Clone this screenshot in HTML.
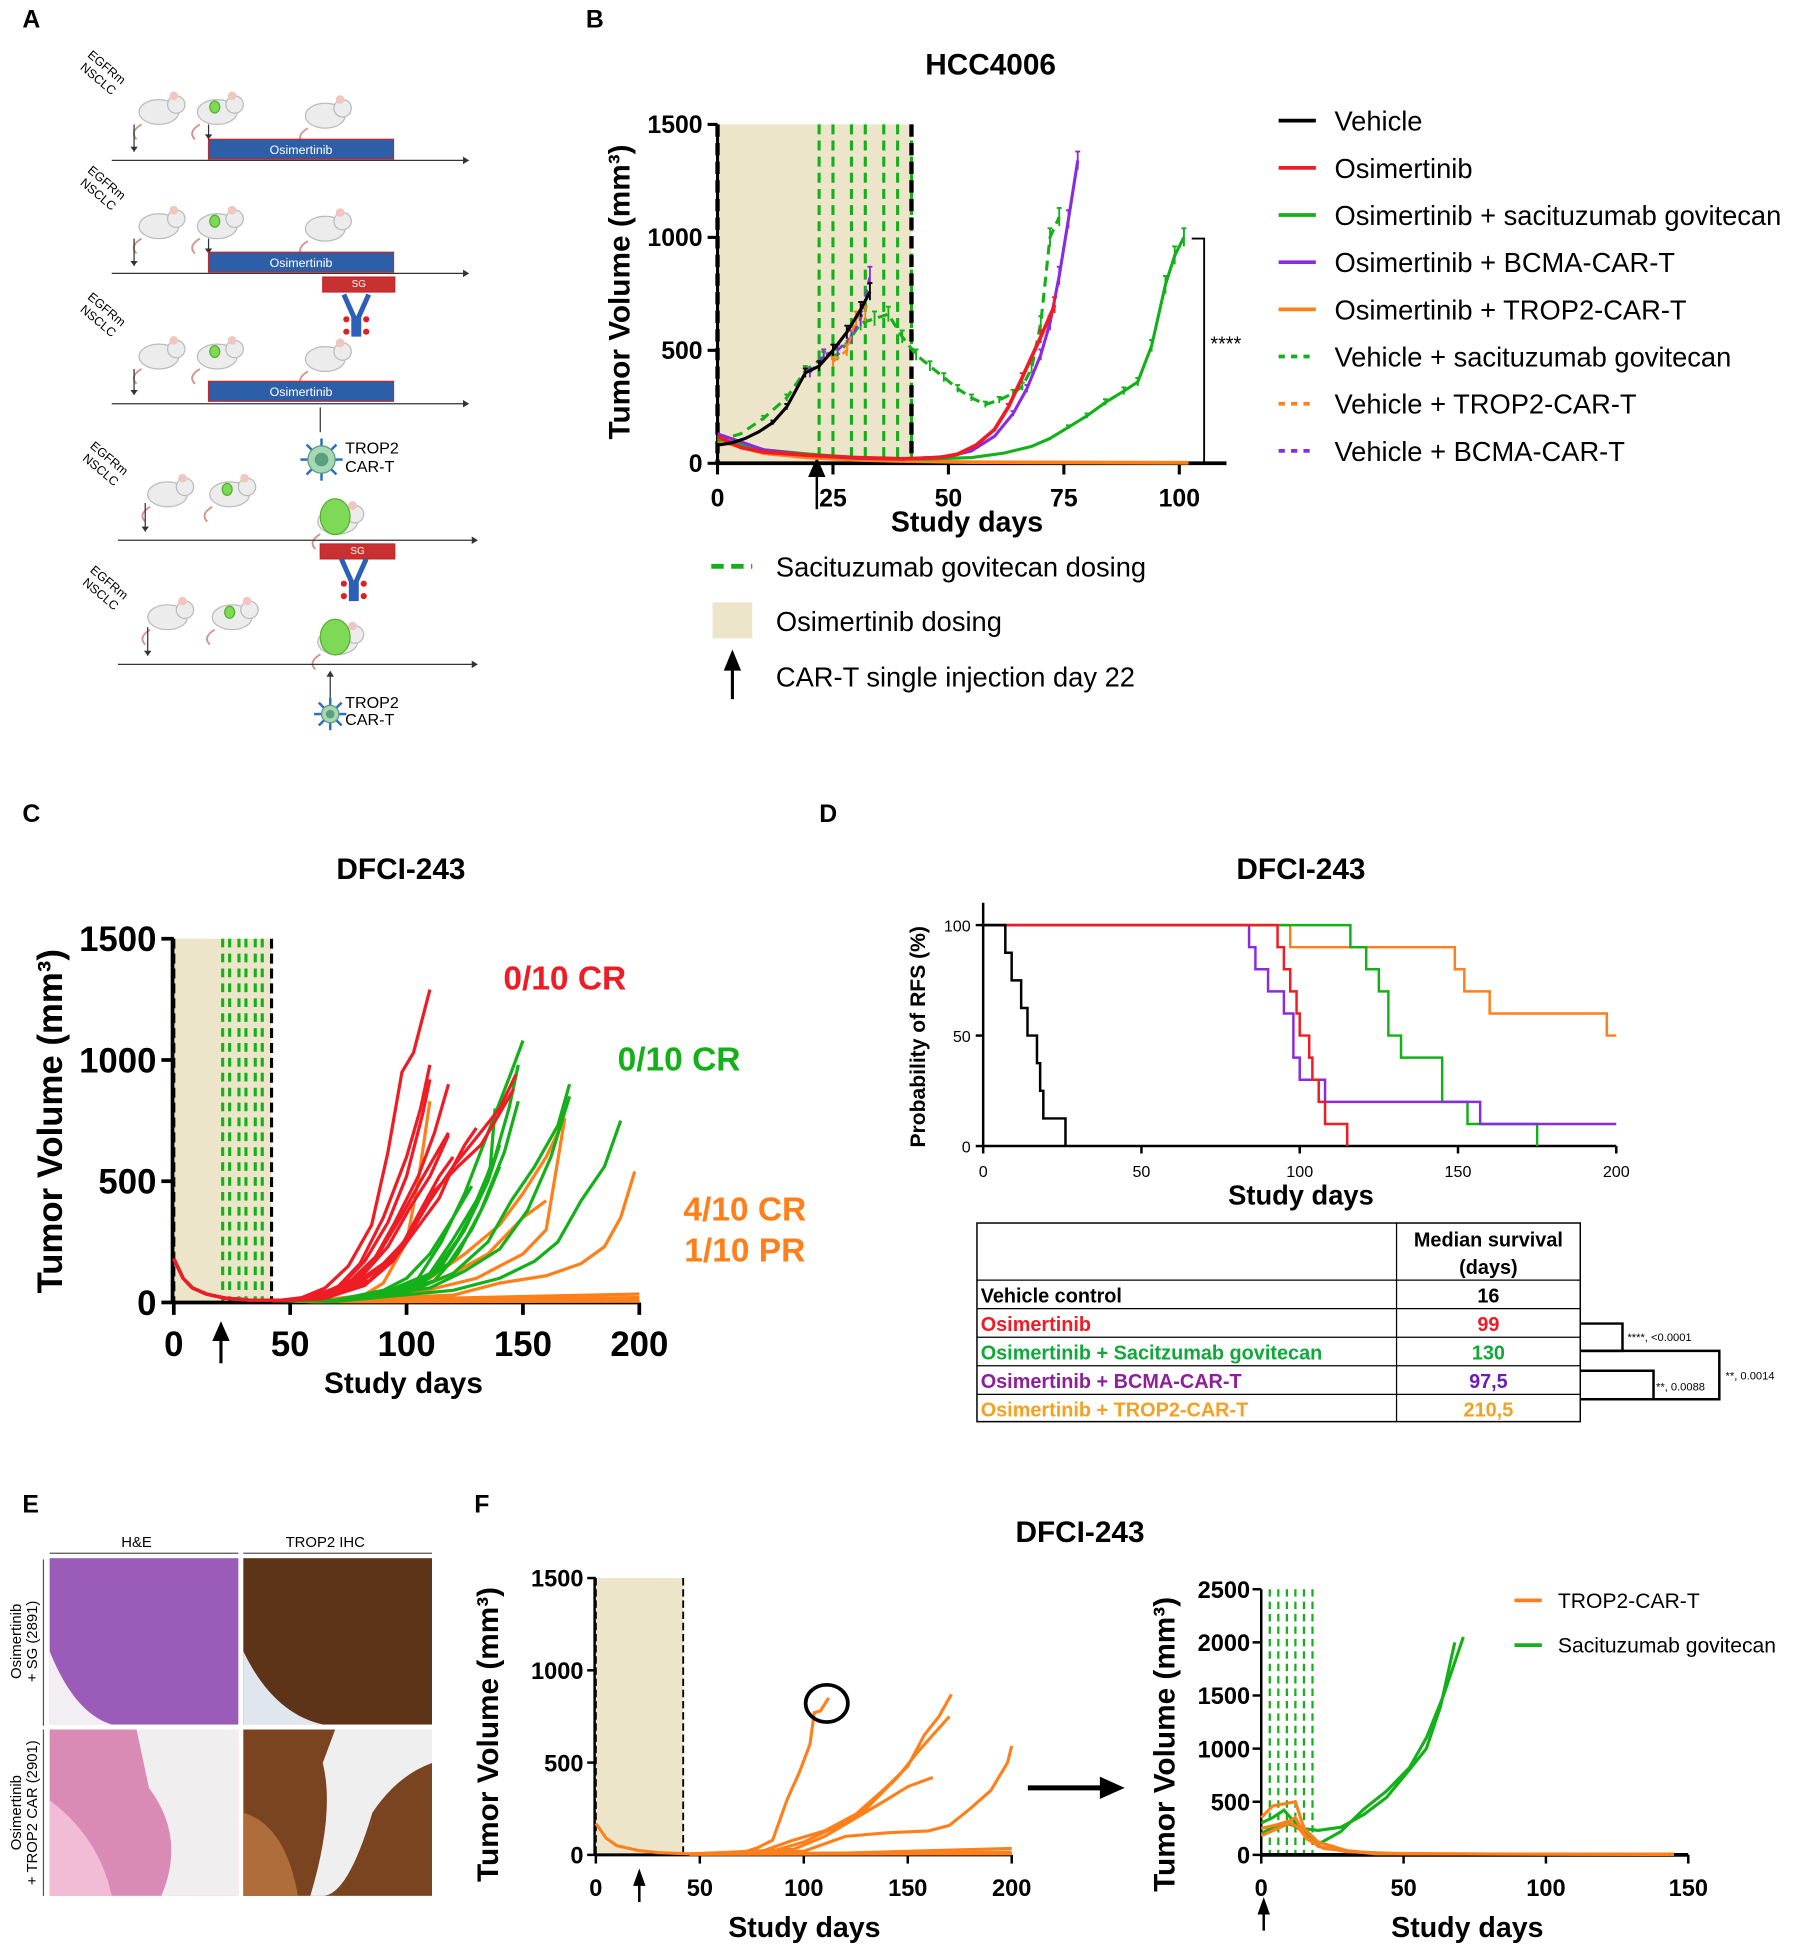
<!DOCTYPE html>
<html><head><meta charset="utf-8">
<style>
html,body{margin:0;padding:0;background:#fff;}
svg{display:block;}
text{font-family:"Liberation Sans",Arial,sans-serif;}
</style></head>
<body>
<svg id="fig" xmlns="http://www.w3.org/2000/svg" width="1800" height="1947" viewBox="0 0 1450 1568">
<rect width="1450" height="1568" fill="#fff"/>
<g id="panelA"></g>
<g id="panelB"></g>
<g id="panelC"></g>
<g id="panelD"></g>
<g id="panelE"></g>
<g id="panelF"></g>
</svg>
<script>
// ---------- DATA: Panel B (HCC4006) ----------
const bXTicks = [0,25,50,75,100];
const bYTicks = [0,500,1000,1500];
const bVehicle = [[0,80],[3,90],[6,110],[9,140],[12,180],[15,250],[19,400],[22,430],[25,500],[28,580],[31,680],[33,760]];
const bOsi = [[0,120],[5,70],[10,50],[20,35],[30,25],[40,20],[48,25],[52,40],[56,80],[60,150],[63,250],[66,380],[70,560],[73,700]];
const bOsiSG = [[0,110],[10,60],[20,40],[30,25],[45,18],[55,25],[62,45],[68,75],[72,110],[76,160],[80,210],[84,270],[88,320],[91,360],[94,520],[97,790],[99,920],[101,1000]];
const bOsiBCMA = [[0,130],[10,60],[20,35],[30,22],[40,18],[50,30],[55,55],[60,120],[64,220],[67,330],[70,480],[72,620],[74,830],[76,1080],[78,1340]];
const bOsiTROP2 = [[0,100],[10,45],[20,25],[30,15],[40,10],[55,5],[102,2]];
const bVehSG = [[0,100],[5,130],[10,200],[15,290],[19,410],[23,470],[26,480],[29,560],[31,620],[34,640],[37,660],[40,560],[43,480],[46,430],[49,380],[52,330],[55,290],[58,260],[61,280],[64,310],[66,340],[68,420],[70,620],[72,1000],[74,1090]];
const bVehTROP2 = [[25,450],[28,500],[30,640],[32,660]];
const bVehBCMA = [[20,400],[23,480],[26,500],[29,560],[31,640],[33,830]];
const bSGDays = [22,25,29,32,36,39,42];
// ---------- DATA: Panel C ----------
const cXTicks = [0,50,100,150,200];
const cYTicks = [0,500,1000,1500];
const cSGDays = [21,24,28,31,35,38];
const cEarly = [[0,180],[4,100],[8,60],[14,35],[22,18],[32,10],[45,8]];
const cRed = [
 [[55,20],[65,60],[75,150],[85,320],[92,620],[98,950],[103,1030],[110,1290]],
 [[55,15],[70,60],[80,160],[90,350],[100,600],[106,800],[110,980]],
 [[60,20],[72,70],[82,170],[92,330],[100,520],[107,780],[110,920]],
 [[60,15],[75,70],[85,160],[95,330],[105,520],[112,700],[118,900]],
 [[62,18],[78,80],[90,160],[100,260],[110,420],[120,560],[130,680],[140,800],[147,940]],
 [[62,15],[80,80],[92,170],[102,290],[112,460],[122,560],[132,650],[140,780],[146,880]],
 [[64,15],[82,70],[94,170],[104,300],[114,430],[120,560],[125,650],[130,720]],
 [[60,20],[76,90],[88,200],[98,360],[106,500],[112,600],[118,700]],
 [[66,20],[84,90],[96,200],[106,380],[114,520],[120,600]],
 [[64,25],[80,100],[92,230],[102,400],[110,520],[118,690]]
];
const cGreen = [
 [[70,10],[90,40],[105,100],[115,250],[125,450],[135,700],[145,950],[150,1080]],
 [[70,10],[95,50],[110,120],[120,260],[130,420],[138,600],[144,800],[148,980]],
 [[70,8],[95,40],[112,90],[122,200],[132,380],[142,620],[148,830]],
 [[70,8],[100,50],[115,150],[125,300],[135,500],[140,650]],
 [[70,5],[100,40],[120,120],[135,250],[145,420],[155,560],[165,730],[170,900]],
 [[70,5],[110,60],[125,130],[140,220],[152,380],[162,600],[170,850]],
 [[70,5],[120,50],[140,100],[155,170],[165,250],[175,420],[185,560],[192,750]],
 [[70,10],[90,50],[100,100],[110,200],[120,350],[128,480]],
 [[70,8],[100,60],[112,130],[122,260],[130,400],[136,560],[138,800]],
 [[70,6],[105,70],[118,160],[128,300],[134,420],[140,560]]
];
const cOrange = [
 [[60,5],[80,20],[90,80],[100,250],[105,500],[110,830]],
 [[60,5],[90,40],[110,100],[125,200],[140,320],[150,450],[160,600],[168,760]],
 [[60,5],[100,40],[120,120],[135,200],[150,350],[160,420]],
 [[60,5],[120,30],[140,80],[160,110],[175,160],[185,230],[192,350],[198,540]],
 [[60,5],[100,30],[130,100],[150,200],[160,300],[168,760]],
 [[60,5],[200,35]],
 [[60,5],[200,20]],
 [[60,4],[200,10]],
 [[60,3],[200,5]]
];
// ---------- DATA: Panel D (Kaplan-Meier) ----------
const dXTicks = [0,50,100,150,200];
const dYTicks = [0,50,100];
const dVehicle = [[0,100],[7,87.5],[9,75],[12,62.5],[14,50],[17,37.5],[18,25],[19,12.5],[26,0]];
const dOsi = [[0,100],[93,90],[95,80],[97,70],[99,60],[100,50],[103,40],[104,30],[106,20],[108,10],[115,0]];
const dBCMA = [[0,100],[84,90],[86,80],[90,70],[95,60],[98,40],[100,30],[108,20],[157,10],[200,10]];
const dSG = [[0,100],[116,90],[121,80],[125,70],[128,50],[132,40],[145,20],[153,10],[175,0]];
const dTROP2 = [[0,100],[97,90],[149,80],[152,70],[160,60],[197,50],[200,50]];
// ---------- DATA: Panel F ----------
const fXTicksL = [0,50,100,150,200];
const fYTicksL = [0,500,1000,1500];
const fOrangeL = [
 [[0,170],[5,90],[10,50],[20,25],[30,12],[45,6],[70,10],[78,40],[85,80],[92,300],[98,450],[103,600],[105,770],[108,780],[112,850]],
 [[45,5],[80,20],[95,80],[110,130],[125,220],[140,370],[150,480],[158,650],[165,750],[171,870]],
 [[45,5],[85,20],[100,70],[115,150],[130,250],[145,420],[155,560],[170,750]],
 [[45,5],[95,30],[110,100],[125,200],[140,300],[150,370],[162,420]],
 [[45,5],[100,20],[120,100],[140,120],[160,130],[170,160],[180,250],[190,350],[198,500],[200,590]],
 [[45,5],[120,10],[200,35]],
 [[45,4],[200,15]],
 [[45,3],[200,6]]
];
const fXTicksR = [0,50,100,150];
const fYTicksR = [0,500,1000,1500,2000,2500];
const fSGDays = [3,6,9,12,15,18];
const fGreenR = [
 [[0,300],[4,350],[8,420],[11,330],[14,250],[20,230],[28,260],[36,380],[44,540],[52,800],[58,1000],[63,1400],[68,2000]],
 [[0,200],[4,260],[8,300],[11,280],[15,220],[20,100],[28,220],[36,430],[44,600],[52,820],[58,1100],[64,1500],[71,2050]]
];
const fOrangeR = [
 [[0,350],[4,460],[8,480],[12,500],[15,250],[20,120],[30,40],[40,15],[80,8],[145,8]],
 [[0,250],[5,280],[10,320],[12,350],[15,200],[20,80],[30,30],[50,10],[145,5]],
 [[0,180],[5,240],[10,300],[13,260],[16,150],[22,60],[40,10],[145,3]]
];
// ---------- helpers ----------
const NS = 'http://www.w3.org/2000/svg';
function mk(tag, attrs, parent){
  const e = document.createElementNS(NS, tag);
  for (const k in attrs) e.setAttribute(k, attrs[k]);
  parent.appendChild(e);
  return e;
}
function txt(s, x, y, size, parent, opts){
  opts = opts || {};
  const e = mk('text', {x:x, y:y, 'font-size':size, 'text-anchor':opts.anchor||'start', fill:opts.fill||'#000', 'font-weight':opts.bold?'bold':'normal'}, parent);
  if (opts.rot) e.setAttribute('transform', 'rotate('+opts.rot+' '+x+' '+y+')');
  e.textContent = s;
  return e;
}
function scale(d0, d1, p0, p1){ return v => p0 + (v-d0)*(p1-p0)/(d1-d0); }
function pathStr(pts, sx, sy){ return pts.map((p,i)=>(i?'L':'M')+sx(p[0]).toFixed(1)+' '+sy(p[1]).toFixed(1)).join(' '); }
function stepStr(pts, sx, sy){
  let s = 'M'+sx(pts[0][0])+' '+sy(pts[0][1]);
  for (let i=1;i<pts.length;i++){ s += ' L'+sx(pts[i][0])+' '+sy(pts[i-1][1])+' L'+sx(pts[i][0])+' '+sy(pts[i][1]); }
  return s;
}
const GREEN='#14b01a', RED='#ee1c24', PURPLE='#8b2be0', ORANGE='#ff7f1a', SHADE='#ede5c9';

// ---------- Panel letters ----------
const fig = document.getElementById('fig');
[['A',18,22],['B',472,22],['C',18,662],['D',660,662],['E',18,1218],['F',382,1218]].forEach(l=>{
  const t = txt(l[0], l[1], l[2], 20, fig, {bold:true});
  
  
});

// ---------- Panel A ----------
(function(){
  const g = document.getElementById('panelA');
  function mouse(x,y,tumor){
    const m = mk('g', {}, g);
    
    
    mk('path', {d:'M'+(x-14)+' '+(y+10)+' q-10 6 -4 12', stroke:'#d9918a', fill:'none', 'stroke-width':1.5}, m);
    mk('ellipse', {cx:x, cy:y, rx:16, ry:10, fill:'#ececec', stroke:'#bbb'}, m);
    mk('circle', {cx:x+14, cy:y-6, r:7, fill:'#ececec', stroke:'#bbb'}, m);
    mk('circle', {cx:x+12, cy:y-13, r:3.5, fill:'#f1c6c0'}, m);
    if (tumor) mk('ellipse', {cx:x-2, cy:y-4, rx:tumor, ry:tumor*1.2, fill:'#7ed957', stroke:'#55b030'}, m);
  }
  function label(x,y){
    const t1 = txt('EGFRm', x, y, 10, g, {rot:40});  
    const t2 = txt('NSCLC', x-6, y+10, 10, g, {rot:40});  
  }
  function bar(x,y,w,h,color,s,fs){
    const r = mk('rect', {x:x, y:y, width:w, height:h, fill:color, stroke:'#c0282d', 'stroke-width':1}, g);
    
    
    const t = txt(s, x+w/2, y+h-4, fs, g, {anchor:'middle', fill:'#fff'});
     
  }
  function line(y,x1,x2){
    const l = mk('line', {x1:x1, y1:y, x2:x2, y2:y, stroke:'#333', 'stroke-width':1}, g);
     
    mk('path', {d:'M'+x2+' '+(y-3)+' L'+(x2+5)+' '+y+' L'+x2+' '+(y+3)+'Z', fill:'#333'}, g);
  }
  function down(x,y1,y2){ mk('line',{x1:x,y1:y1,x2:x,y2:y2,stroke:'#333'},g); mk('path',{d:'M'+(x-3)+' '+(y2-4)+' L'+x+' '+y2+' L'+(x+3)+' '+(y2-4)+'Z',fill:'#333'},g); }
  function antibody(x,y){
    const a = mk('g',{},g);
     
    mk('path',{d:'M'+(x-10)+' '+(y-18)+' L'+(x-2)+' '+y+' L'+(x-2)+' '+(y+16)+' M'+(x+10)+' '+(y-18)+' L'+(x+2)+' '+y+' L'+(x+2)+' '+(y+16),stroke:'#2b5fb8','stroke-width':4,fill:'none'},a);
    [[-8,2],[8,2],[-8,12],[8,12]].forEach(p=>mk('circle',{cx:x+p[0],cy:y+p[1],r:2.5,fill:'#e02020'},a));
  }
  function cart(x,y,r){
    const c = mk('g',{},g);
     
    for(let i=0;i<8;i++){ const an=i*Math.PI/4; mk('line',{x1:x+Math.cos(an)*r,y1:y+Math.sin(an)*r,x2:x+Math.cos(an)*(r+6),y2:y+Math.sin(an)*(r+6),stroke:'#2b6fc0','stroke-width':2},c); }
    mk('circle',{cx:x,cy:y,r:r,fill:'#a6d7b6',stroke:'#5a9c78'},c);
    mk('circle',{cx:x,cy:y,r:r*0.5,fill:'#5aa07c'},c);
  }
  label(70,45); mouse(128,90,0); mouse(175,90,4); mouse(262,93,0);
  down(108,100,122); down(168,100,112); line(129,90,373); bar(168,112,149,16,'#2d5fa8','Osimertinib',10);
  label(70,138); mouse(128,182,0); mouse(175,182,4); mouse(262,184,0);
  down(108,192,214); down(168,192,204); line(220,90,373); bar(168,203,149,16,'#2d5fa8','Osimertinib',10);
  bar(260,223,58,12,'#c8312f','SG',8); antibody(287,255);
  label(70,240); mouse(128,287,0); mouse(175,287,4); mouse(262,289,0);
  down(108,297,318); line(325,90,373); bar(168,307,149,16,'#2d5fa8','Osimertinib',10);
  mk('line',{x1:258,y1:328,x2:258,y2:348,stroke:'#333'},g);
  cart(259,370,11); txt('TROP2',278,365,13,g); txt('CAR-T',278,380,13,g);
  label(72,360); mouse(135,398,0); mouse(185,398,4); mouse(272,420,12);
  down(117,405,428); line(435,95,380);
  bar(258,438,60,12,'#c8312f','SG',8); antibody(285,468);
  label(72,460); mouse(135,497,0); mouse(187,497,4); mouse(272,517,12);
  down(119,505,528); line(535,95,380);
  mk('line',{x1:266,y1:562,x2:266,y2:541,stroke:'#333'},g); mk('path',{d:'M263 545 L266 540 L269 545Z',fill:'#333'},g);
  cart(266,575,7); txt('TROP2',278,570,13,g); txt('CAR-T',278,584,13,g);
})();

// ---------- Panel B ----------
(function(){
  const g = document.getElementById('panelB');
  const sx = scale(0,100,578,950), sy = scale(0,1500,373,100);
  const t = txt('HCC4006', 798, 60, 24, g, {anchor:'middle', bold:true});  
  const sh = mk('rect',{x:sx(0),y:sy(1500),width:sx(42)-sx(0),height:sy(0)-sy(1500),fill:SHADE},g);
   
  bSGDays.forEach(d=>{ const l=mk('line',{x1:sx(d),y1:sy(1500),x2:sx(d),y2:sy(0),stroke:GREEN,'stroke-width':2.5,'stroke-dasharray':'8,5'},g);   });
  [0,42].forEach(d=>{ const l=mk('line',{x1:sx(d),y1:sy(1500),x2:sx(d),y2:sy(0),stroke:'#000','stroke-width':3.5,'stroke-dasharray':'10,5'},g);   });
  const ya = mk('line',{x1:sx(0),y1:sy(1500),x2:sx(0),y2:sy(0),stroke:'#000','stroke-width':2.5},g);  
  const xa = mk('line',{x1:sx(0),y1:sy(0),x2:988,y2:sy(0),stroke:'#000','stroke-width':3},g);  
  bYTicks.forEach(v=>{ mk('line',{x1:sx(0)-8,y1:sy(v),x2:sx(0),y2:sy(v),stroke:'#000','stroke-width':2.5},g); const l=txt(String(v),sx(0)-12,sy(v)+7,20,g,{anchor:'end',bold:true});   });
  bXTicks.forEach(v=>{ mk('line',{x1:sx(v),y1:sy(0),x2:sx(v),y2:sy(0)+9,stroke:'#000','stroke-width':2.5},g); const l=txt(String(v),sx(v),sy(0)+35,20,g,{anchor:'middle',bold:true});   });
  const xt = txt('Study days',779,428,23,g,{anchor:'middle',bold:true});  
  const yt = txt('Tumor Volume (mm³)',507,235,24,g,{anchor:'middle',bold:true,rot:-90});  
  mk('line',{x1:658,y1:410,x2:658,y2:380,stroke:'#000','stroke-width':2},g); mk('path',{d:'M651 384 L658 368 L665 384Z',fill:'#000'},g);
  const series = [[bOsiTROP2,ORANGE,'',3],[bVehSG,GREEN,'8,5',2.5],[bOsiSG,GREEN,'',2.5],[bOsiBCMA,PURPLE,'',2.5],[bOsi,RED,'',3],[bVehBCMA,PURPLE,'6,4',2],[bVehTROP2,ORANGE,'6,4',2],[bVehicle,'#000','',2.5]];
  const names = ['series-osimertinib-trop2-car-t','series-vehicle-sg','series-osimertinib-sg','series-osimertinib-bcma-car-t','series-osimertinib','series-vehicle-bcma-car-t','series-vehicle-trop2-car-t','series-vehicle'];
  series.forEach((s,i)=>{
    const p = mk('path',{d:pathStr(s[0],sx,sy),stroke:s[1],fill:'none','stroke-width':s[3],'stroke-dasharray':s[2]},g);
    
    
    s[0].forEach(pt=>{ if(pt[1]>150){ const h=Math.min(pt[1]*0.05,40); mk('line',{x1:sx(pt[0]),y1:sy(pt[1]+h),x2:sx(pt[0]),y2:sy(pt[1]-h),stroke:s[1],'stroke-width':1.5},g); mk('line',{x1:sx(pt[0])-2,y1:sy(pt[1]+h),x2:sx(pt[0])+2,y2:sy(pt[1]+h),stroke:s[1],'stroke-width':1.5},g); } });
  });
  const br = mk('path',{d:'M960 192 L970 192 L970 373 L960 373',stroke:'#000',fill:'none','stroke-width':1.5},g);  
  txt('****',975,282,16,g);
  const leg = [['Vehicle','#000',''],['Osimertinib',RED,''],['Osimertinib + sacituzumab govitecan',GREEN,''],['Osimertinib + BCMA-CAR-T',PURPLE,''],['Osimertinib + TROP2-CAR-T',ORANGE,''],['Vehicle + sacituzumab govitecan',GREEN,'5,5'],['Vehicle + TROP2-CAR-T',ORANGE,'5,5'],['Vehicle + BCMA-CAR-T',PURPLE,'5,5']];
  leg.forEach((l,i)=>{
    const y = 97 + i*38;
    const e = mk('g',{},g);
    
    
    mk('line',{x1:1030,y1:y,x2:1060,y2:y,stroke:l[1],'stroke-width':3,'stroke-dasharray':l[2]},e);
    txt(l[0],1075,y+8,22,e);
  });
  mk('line',{x1:573,y1:456,x2:606,y2:456,stroke:GREEN,'stroke-width':4,'stroke-dasharray':'10,6'},g);
  txt('Sacituzumab govitecan dosing',625,464,22,g);
  mk('rect',{x:574,y:485,width:32,height:29,fill:SHADE},g);
  txt('Osimertinib dosing',625,508,22,g);
  mk('line',{x1:590,y1:563,x2:590,y2:535,stroke:'#000','stroke-width':2.5},g); mk('path',{d:'M583 540 L590 523 L597 540Z',fill:'#000'},g);
  txt('CAR-T single injection day 22',625,553,22,g);
})();

// ---------- Panel C ----------
(function(){
  const g = document.getElementById('panelC');
  const sx = scale(0,200,140,515), sy = scale(0,1500,1049,756);
  const t = txt('DFCI-243',323,708,24,g,{anchor:'middle',bold:true});  
  mk('rect',{x:sx(0),y:sy(1500),width:sx(42)-sx(0),height:sy(0)-sy(1500),fill:SHADE},g);
  cSGDays.forEach(d=>{ const l=mk('line',{x1:sx(d),y1:sy(1500),x2:sx(d),y2:sy(5),stroke:GREEN,'stroke-width':2.5,'stroke-dasharray':'7,5'},g);   });
  [0,42].forEach(d=>mk('line',{x1:sx(d),y1:sy(1500),x2:sx(d),y2:sy(0),stroke:'#000','stroke-width':2.5,'stroke-dasharray':'8,4'},g));
  const ya = mk('line',{x1:sx(0)-1,y1:sy(1500),x2:sx(0)-1,y2:sy(0),stroke:'#000','stroke-width':3},g);  
  const xa = mk('line',{x1:sx(0),y1:sy(0),x2:sx(200),y2:sy(0),stroke:'#000','stroke-width':3},g);  
  cYTicks.forEach(v=>{ mk('line',{x1:sx(0)-10,y1:sy(v),x2:sx(0),y2:sy(v),stroke:'#000','stroke-width':3},g); const l=txt(String(v),sx(0)-14,sy(v)+10,28,g,{anchor:'end',bold:true});   });
  cXTicks.forEach(v=>{ mk('line',{x1:sx(v),y1:sy(0),x2:sx(v),y2:sy(0)+10,stroke:'#000','stroke-width':3},g); const l=txt(String(v),sx(v),sy(0)+43,28,g,{anchor:'middle',bold:true});   });
  mk('line',{x1:178,y1:1098,x2:178,y2:1075,stroke:'#000','stroke-width':2.5},g); mk('path',{d:'M171 1080 L178 1064 L185 1080Z',fill:'#000'},g);
  const xt = txt('Study days',325,1122,24,g,{anchor:'middle',bold:true});  
  const yt = txt('Tumor Volume (mm³)',50,903,28,g,{anchor:'middle',bold:true,rot:-90});  
  cOrange.forEach(c=>{ const p=mk('path',{d:pathStr(cEarly.concat(c),sx,sy),stroke:ORANGE,fill:'none','stroke-width':2.6},g);   });
  cGreen.forEach(c=>{ const p=mk('path',{d:pathStr(cEarly.concat(c),sx,sy),stroke:GREEN,fill:'none','stroke-width':2.6},g);   });
  cRed.forEach(c=>{ const p=mk('path',{d:pathStr(cEarly.concat(c),sx,sy),stroke:RED,fill:'none','stroke-width':2.6},g);   });
  [['0/10 CR',455,797,RED],['0/10 CR',547,862,GREEN],['4/10 CR',600,983,ORANGE],['1/10 PR',600,1016,ORANGE]].forEach(a=>{ const l=txt(a[0],a[1],a[2],27,g,{anchor:'middle',bold:true,fill:a[3]});   });
})();

// ---------- Panel D ----------
(function(){
  const g = document.getElementById('panelD');
  const sx = scale(0,200,792,1302), sy = scale(0,100,923,745);
  const t = txt('DFCI-243',1048,708,24,g,{anchor:'middle',bold:true});  
  const ya = mk('line',{x1:sx(0),y1:727,x2:sx(0),y2:sy(0),stroke:'#000','stroke-width':2},g);  
  const xa = mk('line',{x1:sx(0),y1:sy(0),x2:sx(200),y2:sy(0),stroke:'#000','stroke-width':2},g);  
  dYTicks.forEach(v=>{ mk('line',{x1:sx(0)-6,y1:sy(v),x2:sx(0),y2:sy(v),stroke:'#000','stroke-width':2},g); const l=txt(String(v),sx(0)-10,sy(v)+5,13,g,{anchor:'end'});   });
  dXTicks.forEach(v=>{ mk('line',{x1:sx(v),y1:sy(0),x2:sx(v),y2:sy(0)+6,stroke:'#000','stroke-width':2},g); const l=txt(String(v),sx(v),sy(0)+25,13,g,{anchor:'middle'});   });
  const xt = txt('Study days',1048,970,22,g,{anchor:'middle',bold:true});  
  const yt = txt('Probability of RFS (%)',745,835,17,g,{anchor:'middle',bold:true,rot:-90});  
  const km = [[dTROP2,ORANGE,'km-trop2-car-t'],[dSG,GREEN,'km-sg'],[dBCMA,PURPLE,'km-bcma-car-t'],[dOsi,RED,'km-osimertinib'],[dVehicle,'#000','km-vehicle']];
  km.forEach(k=>{ const p=mk('path',{d:stepStr(k[0],sx,sy),stroke:k[1],fill:'none','stroke-width':2},g);   });
  const tb = mk('g',{},g);
  
  
  const ys = [985,1031,1054,1077,1100,1123,1145];
  mk('rect',{x:787,y:985,width:486,height:160,fill:'none',stroke:'#000','stroke-width':1.2},tb);
  mk('line',{x1:1125,y1:985,x2:1125,y2:1145,stroke:'#000','stroke-width':1},tb);
  ys.slice(1,6).forEach(y=>mk('line',{x1:787,y1:y,x2:1273,y2:y,stroke:'#000','stroke-width':1},tb));
  txt('Median survival',1199,1004,16,tb,{anchor:'middle',bold:true}); txt('(days)',1199,1026,16,tb,{anchor:'middle',bold:true});
  const rows = [['Vehicle control','16','#000','#000'],['Osimertinib','99',RED,RED],['Osimertinib + Sacitzumab govitecan','130','#10a83a','#10a83a'],['Osimertinib + BCMA-CAR-T','97,5','#8e1f9a','#6a1fb0'],['Osimertinib + TROP2-CAR-T','210,5','#f5a020','#f5a020']];
  rows.forEach((r,i)=>{ const y=ys[i+1]+18; const a=txt(r[0],790,y,16,tb,{bold:true,fill:r[2]});   const b=txt(r[1],1199,y,16,tb,{anchor:'middle',bold:true,fill:r[3]});   });
  mk('path',{d:'M1273 1066 L1307 1066 L1307 1088 L1273 1088',stroke:'#000',fill:'none','stroke-width':2},g);
  txt('****, <0.0001',1311,1080,9,g);
  mk('path',{d:'M1273 1104 L1332 1104 L1332 1127 L1273 1127',stroke:'#000',fill:'none','stroke-width':2},g);
  txt('**, 0.0088',1334,1120,9,g);
  mk('path',{d:'M1273 1088 L1385 1088 L1385 1127 L1273 1127',stroke:'#000',fill:'none','stroke-width':2},g);
  txt('**, 0.0014',1390,1111,9,g);
})();

// ---------- Panel E ----------
(function(){
  const g = document.getElementById('panelE');
  txt('H&E',110,1246,12,g,{anchor:'middle'}); txt('TROP2 IHC',262,1246,12,g,{anchor:'middle'});
  mk('line',{x1:40,y1:1251,x2:192,y2:1251,stroke:'#555'},g); mk('line',{x1:196,y1:1251,x2:348,y2:1251,stroke:'#555'},g);
  mk('line',{x1:35,y1:1256,x2:35,y2:1390,stroke:'#555'},g); mk('line',{x1:35,y1:1393,x2:35,y2:1527,stroke:'#555'},g);
  txt('Osimertinib',17,1322,12,g,{anchor:'middle',rot:-90}); txt('+ SG (2891)',30,1322,12,g,{anchor:'middle',rot:-90});
  txt('Osimertinib',17,1460,12,g,{anchor:'middle',rot:-90}); txt('+ TROP2 CAR (2901)',30,1460,12,g,{anchor:'middle',rot:-90});
  const imgs = [[40,1255,'#9a5cb8','he-image-sg'],[196,1255,'#5e3418','ihc-image-sg'],[40,1393,'#d98ab5','he-image-trop2'],[196,1393,'#7a4420','ihc-image-trop2']];
  imgs.forEach(im=>{
    const r = mk('rect',{x:im[0],y:im[1],width:152,height:134,fill:im[2]},g);
    
    
  });
  mk('path',{d:'M40 1330 Q60 1380 90 1389 L40 1389Z',fill:'#f3eef3'},g);
  mk('path',{d:'M196 1330 Q220 1380 260 1389 L196 1389Z',fill:'#dfe6ee'},g);
  mk('path',{d:'M110 1393 L192 1393 L192 1527 L130 1527 Q150 1480 120 1440 Z',fill:'#f0eeee'},g);
  mk('path',{d:'M40 1450 Q80 1480 90 1527 L40 1527Z',fill:'#f2bcd6'},g);
  mk('path',{d:'M270 1393 L348 1393 L348 1420 Q320 1430 300 1460 Q280 1527 260 1527 L250 1527 Q270 1460 260 1420Z',fill:'#efefef'},g);
  mk('path',{d:'M196 1460 Q230 1470 240 1527 L196 1527Z',fill:'#b06d3c'},g);
})();

// ---------- Panel F ----------
(function(){
  const g = document.getElementById('panelF');
  const t = txt('DFCI-243',870,1242,24,g,{anchor:'middle',bold:true});  
  const sx = scale(0,200,480,815), sy = scale(0,1500,1494,1271);
  mk('rect',{x:sx(0),y:sy(1500),width:sx(42)-sx(0),height:sy(0)-sy(1500),fill:SHADE},g);
  [0,42].forEach(d=>mk('line',{x1:sx(d),y1:sy(1500),x2:sx(d),y2:sy(0),stroke:'#000','stroke-width':1.5,'stroke-dasharray':'6,3'},g));
  const ya = mk('line',{x1:sx(0)-1,y1:sy(1500),x2:sx(0)-1,y2:sy(0),stroke:'#000','stroke-width':2},g);  
  const xa = mk('line',{x1:sx(0),y1:sy(0),x2:sx(200),y2:sy(0),stroke:'#000','stroke-width':2.5},g);  
  fYTicksL.forEach(v=>{ mk('line',{x1:sx(0)-7,y1:sy(v),x2:sx(0),y2:sy(v),stroke:'#000','stroke-width':2},g); const l=txt(String(v),sx(0)-10,sy(v)+7,19,g,{anchor:'end',bold:true});   });
  fXTicksL.forEach(v=>{ mk('line',{x1:sx(v),y1:sy(0),x2:sx(v),y2:sy(0)+7,stroke:'#000','stroke-width':2},g); const l=txt(String(v),sx(v),sy(0)+33,19,g,{anchor:'middle',bold:true});   });
  mk('line',{x1:515,y1:1532,x2:515,y2:1515,stroke:'#000','stroke-width':2},g); mk('path',{d:'M510 1519 L515 1505 L520 1519Z',fill:'#000'},g);
  const xt = txt('Study days',648,1560,23,g,{anchor:'middle',bold:true});  
  const yt = txt('Tumor Volume (mm³)',401,1397,24,g,{anchor:'middle',bold:true,rot:-90});  
  fOrangeL.forEach(c=>{ const p=mk('path',{d:pathStr(c,sx,sy),stroke:ORANGE,fill:'none','stroke-width':2.5},g);   });
  const ci = mk('ellipse',{cx:666,cy:1372,rx:17,ry:15,fill:'none',stroke:'#000','stroke-width':3},g);  
  mk('line',{x1:828,y1:1440,x2:890,y2:1440,stroke:'#000','stroke-width':4},g); mk('path',{d:'M886 1431 L906 1440 L886 1449Z',fill:'#000'},g);
  const rx = scale(0,150,1016,1360), ry = scale(0,2500,1494,1280);
  fSGDays.forEach(d=>{ const l=mk('line',{x1:rx(d),y1:ry(2500),x2:rx(d),y2:ry(0),stroke:GREEN,'stroke-width':1.8,'stroke-dasharray':'6,4'},g);   });
  const rya = mk('line',{x1:rx(0),y1:ry(2500),x2:rx(0),y2:ry(0),stroke:'#000','stroke-width':2},g);  
  const rxa = mk('line',{x1:rx(0),y1:ry(0),x2:rx(150),y2:ry(0),stroke:'#000','stroke-width':3},g);  
  fYTicksR.forEach(v=>{ mk('line',{x1:rx(0)-7,y1:ry(v),x2:rx(0),y2:ry(v),stroke:'#000','stroke-width':2},g); const l=txt(String(v),rx(0)-9,ry(v)+7,19,g,{anchor:'end',bold:true});   });
  fXTicksR.forEach(v=>{ mk('line',{x1:rx(v),y1:ry(0),x2:rx(v),y2:ry(0)+7,stroke:'#000','stroke-width':2},g); const l=txt(String(v),rx(v),ry(0)+33,19,g,{anchor:'middle',bold:true});   });
  mk('line',{x1:1018,y1:1555,x2:1018,y2:1538,stroke:'#000','stroke-width':2},g); mk('path',{d:'M1013 1542 L1018 1528 L1023 1542Z',fill:'#000'},g);
  const xt2 = txt('Study days',1182,1560,23,g,{anchor:'middle',bold:true});  
  const yt2 = txt('Tumor Volume (mm³)',946,1405,24,g,{anchor:'middle',bold:true,rot:-90});  
  fGreenR.forEach(c=>{ const p=mk('path',{d:pathStr(c,rx,ry),stroke:GREEN,fill:'none','stroke-width':2.5},g);   });
  fOrangeR.forEach(c=>{ const p=mk('path',{d:pathStr(c,rx,ry),stroke:ORANGE,fill:'none','stroke-width':2.5},g);   });
  [['TROP2-CAR-T',ORANGE,1289],['Sacituzumab govitecan',GREEN,1325]].forEach(l=>{
    const e = mk('g',{},g);
    
    
    mk('line',{x1:1220,y1:l[2],x2:1242,y2:l[2],stroke:l[1],'stroke-width':3},e);
    txt(l[0],1255,l[2]+6,17,e);
  });
})();
</script>
</body></html>
